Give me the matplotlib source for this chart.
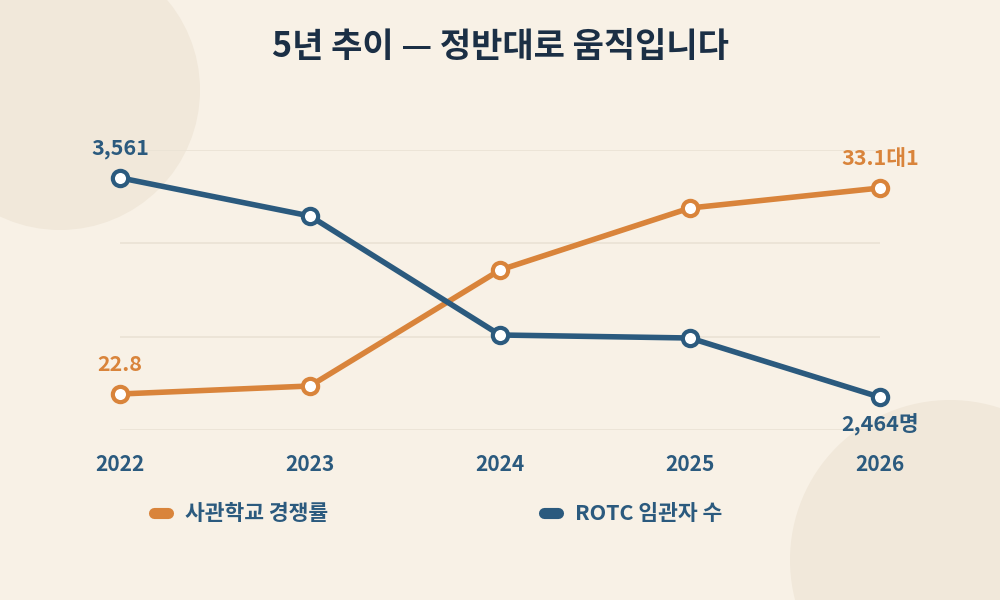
import matplotlib
matplotlib.use("Agg")
import matplotlib.pyplot as plt
from matplotlib.patches import Ellipse
from matplotlib.lines import Line2D

plt.rcParams['font.family'] = ['Noto Sans CJK KR', 'DejaVu Sans']

years = ["2022", "2023", "2024", "2025", "2026"]
academy_rate = [22.8, 23.2, 29.0, 32.1, 33.1]
rotc_count = [3561, 3370, 2775, 2760, 2464]
series_names = ["사관학교 경쟁률", "ROTC 임관자 수"]
title = "5년 추이 — 정반대로 움직입니다"

BG = "#F8F1E6"
CIRCLE = "#F1E8DA"
ORANGE = "#D9843B"
BLUE = "#2B5A7E"
NAVY = "#1B2F45"
GRID = "#EAE2D5"

fig = plt.figure(figsize=(10, 6), dpi=100)
fig.patch.set_facecolor(BG)


def add_circle(cx, cy, r):
    e = Ellipse((cx / 1000, 1 - cy / 600), 2 * r / 1000, 2 * r / 600,
                transform=fig.transFigure, facecolor=CIRCLE, edgecolor='none',
                zorder=-10)
    fig.patches.append(e)


add_circle(60, 90, 140)
add_circle(950, 560, 160)

ax = fig.add_axes([0.12, 1 - 430 / 600, 0.76, (430 - 150) / 600])
ax.set_facecolor('none')
ax2 = ax.twinx()
ax2.set_facecolor('none')

x = list(range(len(years)))
ax.set_xlim(0, len(years) - 1)
ax.set_ylim(21, 35)
ax2.set_ylim(2300, 3700)

grid_vals = [21 + i * 14 / 3 for i in range(4)]
for g in grid_vals:
    ax.axhline(g, color=GRID, lw=1.2, zorder=1)

ax.plot(x, academy_rate, color=ORANGE, lw=4, marker='o', markersize=11,
        markerfacecolor='white', markeredgecolor=ORANGE, markeredgewidth=3,
        clip_on=False, zorder=5, solid_capstyle='round')
ax2.plot(x, rotc_count, color=BLUE, lw=4, marker='o', markersize=11,
         markerfacecolor='white', markeredgecolor=BLUE, markeredgewidth=3,
         clip_on=False, zorder=5, solid_capstyle='round')

for a in (ax, ax2):
    for s in a.spines.values():
        s.set_visible(False)
    a.tick_params(left=False, right=False, labelleft=False, labelright=False, length=0)

ax.set_xticks(x)
ax.set_xticklabels(years, fontsize=15, fontweight='bold', color=BLUE)
ax.tick_params(axis='x', pad=17)

lab_kw = dict(textcoords='offset points', ha='center', va='center',
              fontsize=15.5, fontweight='bold')
ax.annotate(f"{academy_rate[0]}", (x[0], academy_rate[0]), xytext=(0, 21),
            color=ORANGE, **lab_kw)
ax.annotate(f"{academy_rate[-1]}대1", (x[-1], academy_rate[-1]), xytext=(0, 21.5),
            color=ORANGE, **lab_kw)
ax2.annotate(f"{rotc_count[0]:,}", (x[0], rotc_count[0]), xytext=(0, 21),
             color=BLUE, **lab_kw)
ax2.annotate(f"{rotc_count[-1]:,}명", (x[-1], rotc_count[-1]), xytext=(0, -19.5),
             color=BLUE, **lab_kw)

fig.text(0.5, 1 - 46 / 600, title, ha='center', va='center',
         fontsize=24.5, fontweight='heavy', color=NAVY)

# legend
ly = 1 - 513 / 600
for (x0, name, col) in [(150, series_names[0], ORANGE), (540, series_names[1], BLUE)]:
    fig.lines.append(Line2D([(x0 + 4) / 1000, (x0 + 18) / 1000], [ly, ly],
                            transform=fig.transFigure, color=col, lw=8,
                            solid_capstyle='round'))
    fig.text((x0 + 35) / 1000, ly, name, ha='left', va='center',
             fontsize=15.5, fontweight='bold', color=BLUE)

fig.savefig("out.png", dpi=100, facecolor=BG)
